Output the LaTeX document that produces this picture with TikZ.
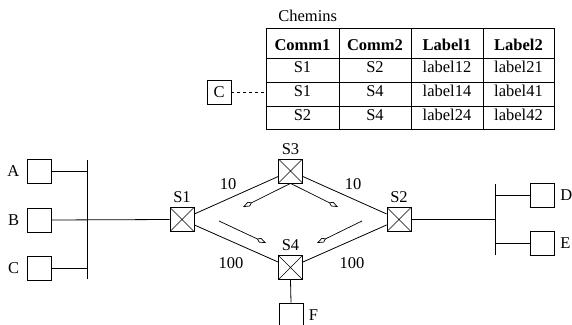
\documentclass[tikz,border=0pt]{standalone}
\usepackage{fontspec}
\setmainfont{Liberation Serif}
\usetikzlibrary{arrows.meta}
\begin{document}
\begin{tikzpicture}[x=1pt,y=-1pt,
  font=\fontsize{16.5}{19}\selectfont,
  line width=0.8pt,
  box/.style={draw, minimum size=24pt, inner sep=0pt},
  switchbox/.style={draw, minimum size=24pt, inner sep=0pt,
    path picture={\draw[line width=0.6pt]
      (path picture bounding box.north west) -- (path picture bounding box.south east)
      (path picture bounding box.north east) -- (path picture bounding box.south west);}},
  txt/.style={inner sep=0pt, anchor=base},
  lab/.style={inner sep=0pt},
  flow/.style={line width=0.7pt, -{Kite[open, length=10pt, width=5pt, inset=3.5pt]}}
]
\useasboundingbox (0,0) rectangle (572,324);

% ---------- table ----------
\node[txt, anchor=base west] (title) at (278,21.5) {Chemins};
\node[draw, anchor=north west, minimum width=288pt, minimum height=101pt, inner sep=0pt] (tbl) at (266,28) {};
\coordinate (r1) at (266,58);
\coordinate (r2) at (266,82);
\coordinate (r3) at (266,106);
\coordinate (c1) at (339,28);
\coordinate (c2) at (411,28);
\coordinate (c3) at (483,28);
\draw (r1) -- (r1 -| tbl.east);
\draw (r2) -- (r2 -| tbl.east);
\draw (r3) -- (r3 -| tbl.east);
\draw (c1) -- (c1 |- tbl.south);
\draw (c2) -- (c2 |- tbl.south);
\draw (c3) -- (c3 |- tbl.south);

\node[txt] (h1) at (302.5,50.5) {\textbf{Comm1}};
\node[txt] (h2) at (375,50.5) {\textbf{Comm2}};
\node[txt] (h3) at (447,50.5) {\textbf{Label1}};
\node[txt] (h4) at (518.5,50.5) {\textbf{Label2}};

\node[txt] (t11) at (302.5,72.5) {S1};
\node[txt] (t12) at (375,72.5) {S2};
\node[txt] (t13) at (447,72.5) {label12};
\node[txt] (t14) at (518.5,72.5) {label21};

\node[txt] (t21) at (302.5,96.5) {S1};
\node[txt] (t22) at (375,96.5) {S4};
\node[txt] (t23) at (447,96.5) {label14};
\node[txt] (t24) at (518.5,96.5) {label41};

\node[txt] (t31) at (302.5,120.5) {S2};
\node[txt] (t32) at (375,120.5) {S4};
\node[txt] (t33) at (447,120.5) {label24};
\node[txt] (t34) at (518.5,120.5) {label42};

\node[draw, minimum size=24pt, inner sep=0pt] (Ctop) at (219,92) {C};
\draw[line width=0.6pt, dash pattern=on 3pt off 3pt] (Ctop.east) -- ++(34,0);

% ---------- left hosts ----------
\node[box, label={[lab, label distance=7pt]left:A}] (A) at (39,171) {};
\node[box, label={[lab, label distance=7pt]left:B}] (B) at (39,220) {};
\node[box, label={[lab, label distance=7pt]left:C}] (C) at (39,268) {};
\coordinate (busLtop) at (87,160);
\coordinate (busLbot) at (87,279);
\draw (busLtop) -- (busLbot);

% ---------- switches ----------
\node[switchbox, label={[lab, label distance=4pt]above:S1}] (S1) at (182,219.5) {};
\node[switchbox, label={[lab, label distance=4pt]above:S3}] (S3) at (290.5,171) {};
\node[switchbox, label={[lab, label distance=4pt]above:S2}] (S2) at (399,219.5) {};
\node[switchbox, label={[lab, label distance=4pt]above:S4}] (S4) at (290.5,267.5) {};

\draw (A.east) -- (A.east -| busLtop);
\draw (C.east) -- (C.east -| busLtop);
\draw (B.east) -- (S1.west);

\draw (S1) -- (S3);
\draw (S3) -- (S2);
\draw (S1) -- (S4);
\draw (S4) -- (S2);

\node[txt] (w13) at (228,189) {10};
\node[txt] (w32) at (353,189) {10};
\node[txt] (w14) at (231,268) {100};
\node[txt] (w42) at (352,268) {100};

% ---------- flow arrows ----------
\coordinate (f1) at (243,207);
\coordinate (f2) at (338,207);
\coordinate (g1s) at (219,221);
\coordinate (g1e) at (266,243);
\coordinate (g2s) at (362,221);
\coordinate (g2e) at (317,243);
\draw[flow] (S3.south) -- (f1);
\draw[flow] (S3.south) -- (f2);
\draw[flow] (g1s) -- (g1e);
\draw[flow] (g2s) -- (g2e);

% ---------- F ----------
\node[box, label={[lab, label distance=5pt]right:F}] (F) at (291,315) {};
\draw (S4.south) -- (F.north);

% ---------- right hosts ----------
\coordinate (busRtop) at (495,184);
\coordinate (busRbot) at (495,255);
\draw (busRtop) -- (busRbot);
\node[box, label={[lab, label distance=5pt]right:D}] (D) at (542.5,195) {};
\node[box, label={[lab, label distance=5pt]right:E}] (E) at (542.5,243.5) {};
\draw (S2.east) -- (S2.east -| busRtop);
\draw (D.west) -- (D.west -| busRtop);
\draw (E.west) -- (E.west -| busRtop);
\end{tikzpicture}
\end{document}
